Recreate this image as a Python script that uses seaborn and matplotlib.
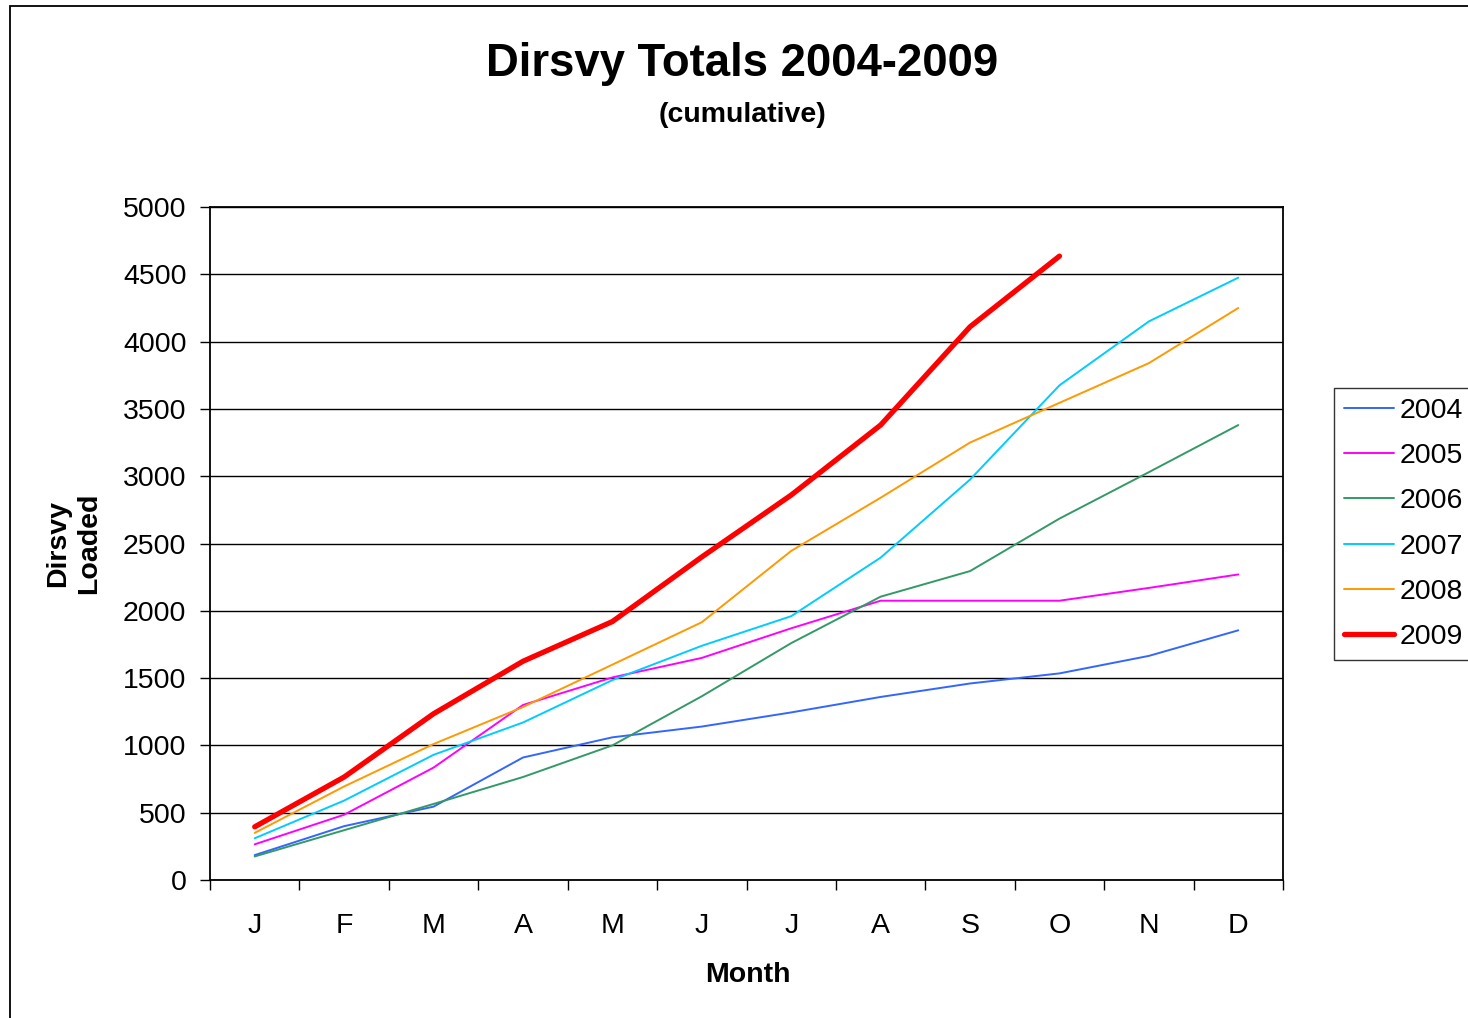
import numpy as np
import pandas as pd
import matplotlib
matplotlib.use("Agg")
import matplotlib.pyplot as plt
import matplotlib.patches as patches
import seaborn as sns

# data (cumulative totals per month)
months = ["J", "F", "M", "A", "M", "J", "J", "A", "S", "O", "N", "D"]
years = ["2004", "2005", "2006", "2007", "2008", "2009"]
y2004 = [185, 400, 545, 910, 1060, 1140, 1245, 1360, 1460, 1535, 1665, 1855]
y2005 = [265, 485, 835, 1300, 1505, 1650, 1870, 2075, 2075, 2075, 2170, 2270]
y2006 = [175, 370, 565, 765, 1000, 1365, 1760, 2105, 2295, 2685, 3030, 3380]
y2007 = [310, 590, 930, 1170, 1485, 1740, 1960, 2395, 2975, 3675, 4150, 4475]
y2008 = [350, 695, 1010, 1285, 1600, 1915, 2445, 2840, 3250, 3545, 3840, 4250]
y2009 = [395, 765, 1235, 1625, 1920, 2400, 2860, 3380, 4110, 4635]
series = [y2004, y2005, y2006, y2007, y2008, y2009]
colors = ["#3366FF", "#FF00FF", "#339966", "#00CCFF", "#FF9900", "#FF0000"]
widths = [1.4, 1.4, 1.4, 1.4, 1.4, 3.8]

sns.set_style("white")
plt.rcParams['font.family'] = ['Liberation Sans', 'DejaVu Sans']
plt.rcParams['text.color'] = 'black'
plt.rcParams['axes.labelcolor'] = 'black'
plt.rcParams['xtick.color'] = 'black'
plt.rcParams['ytick.color'] = 'black'

fig = plt.figure(figsize=(14.68, 10.18), dpi=100)
ax = fig.add_axes([210/1468, 1-880/1018, (1283-210)/1468, (880-207)/1018])

for yr, vals, c, lw in zip(years, series, colors, widths):
    df = pd.DataFrame({"pos": np.arange(len(vals)), "total": vals})
    sns.lineplot(data=df, x="pos", y="total", color=c, linewidth=lw, label=yr, ax=ax)

ax.set_xlim(-0.5, 11.5)
ax.set_ylim(0, 5000)
ax.set_yticks(np.arange(0, 5001, 500))
ax.yaxis.grid(True, color="black", linewidth=1.0)
ax.set_axisbelow(True)
for s in ax.spines.values():
    s.set_color("black")
    s.set_linewidth(1.3)

ax.set_xticks(np.arange(-0.5, 12, 1))
ax.set_xticklabels([])
ax.set_xticks(np.arange(12), minor=True)
ax.set_xticklabels(months, minor=True)
ax.tick_params(axis="x", which="major", direction="out", length=7, width=1, color="black")
ax.tick_params(axis="x", which="minor", length=0, pad=24, labelsize=20.5)
ax.tick_params(axis="y", direction="out", length=7, width=1, color="black", pad=10, labelsize=20.5)
ax.yaxis.set_ticks_position("left")
ax.xaxis.set_ticks_position("bottom")

ax.set_xlabel("Month", fontsize=20.5, fontweight="bold")
ax.xaxis.set_label_coords(0.501, -0.122)
ax.set_ylabel("Dirsvy\nLoaded", fontsize=20.5, fontweight="bold", linespacing=1.25)
ax.yaxis.set_label_coords(-0.101, 0.50)

fig.text(742/1468, 1-64/1018, "Dirsvy Totals 2004-2009", ha="center", va="center",
         fontsize=32.8, fontweight="bold")
fig.text(742/1468, 1-115/1018, "(cumulative)", ha="center", va="center",
         fontsize=20.5, fontweight="bold")

leg = ax.legend(loc="center left", bbox_to_anchor=(1334/1468, 1-524/1018),
                bbox_transform=fig.transFigure, frameon=True, fancybox=False,
                fontsize=20.5, handlelength=1.75, labelspacing=0.68,
                borderpad=0.35, handletextpad=0.2, borderaxespad=0)
leg.get_frame().set_edgecolor("black")
leg.get_frame().set_linewidth(1.0)

fig.add_artist(patches.Rectangle((10/1468, -0.05), 1.1, 1-6/1018+0.05,
                                 transform=fig.transFigure, fill=False,
                                 edgecolor="black", linewidth=1.3, clip_on=False))

fig.savefig("out.png", dpi=100)
